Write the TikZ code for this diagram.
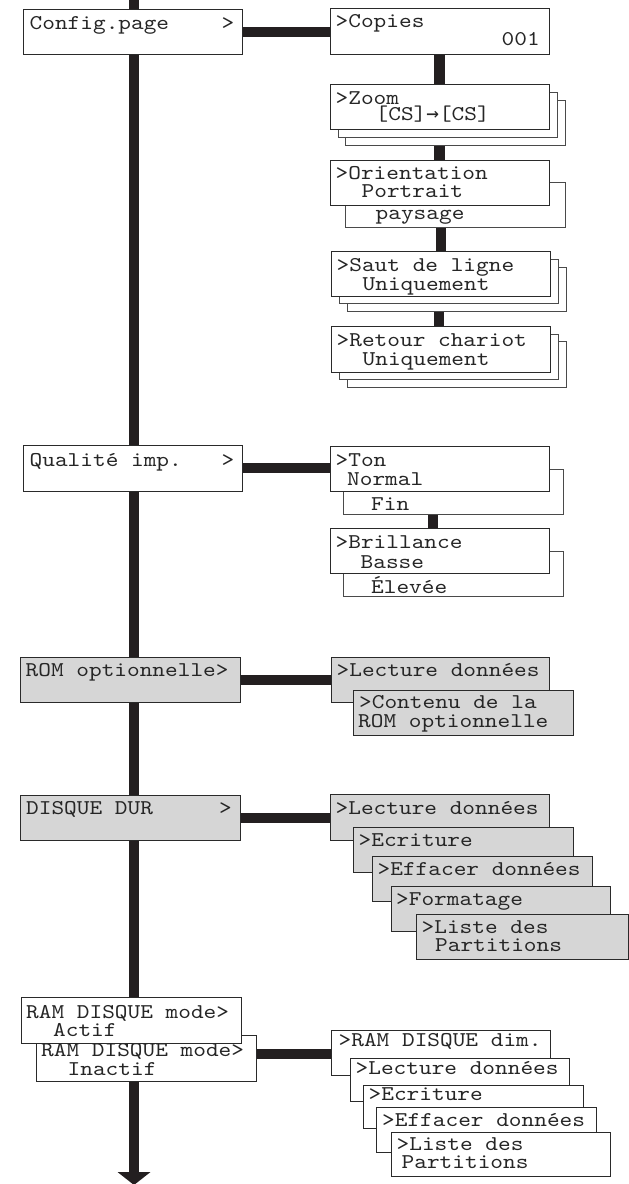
\documentclass[tikz,border=0pt]{standalone}
\usepackage{fontspec}
\setmonofont[FakeStretch=1.15]{lmmono10-regular.otf}
\newfontfamily\arrowfont{DejaVu Sans Mono}
\usetikzlibrary{backgrounds,calc}
\definecolor{ink}{HTML}{231F20}
\definecolor{frame}{HTML}{2A2A2A}
\definecolor{shade}{HTML}{D6D6D6}
\newcommand{\mybox}[6][]{\path (#3,#4) node[box,#1,minimum width={(#5-#3)*1pt},minimum height={(#6-#4)*1pt}] (#2) {};}
\newcommand{\mytext}[4][]{\node[txt,#1] (#2) at (#3) {#4};}
\begin{document}
\begin{tikzpicture}[x=1pt,y=-1pt,
  box/.style={draw=frame,line width=0.9pt,fill=white,inner sep=0pt,outer sep=0pt,anchor=north west},
  grey/.style={fill=shade},
  back/.style={draw=frame!85},
  txt/.style={inner sep=0pt,anchor=base west,font=\ttfamily\fontsize{21}{21}\selectfont,text=black!85},
  hbar/.style={draw=ink,line width=10pt},
  vbar/.style={draw=ink,line width=10.5pt}]
\useasboundingbox (0,0) rectangle (629,1184);

% ---------- left column ----------
\mybox{config}{23}{9}{242}{54}
\mytext{tconfig}{29.5,29}{Config.page}
\mytext{tconfigb}{221.5,29}{>}

\mybox{qualite}{23}{445}{242}{491}
\mytext{tqual}{29.5,466.7}{Qualité imp.}
\mytext{tqualb}{221.5,466.7}{>}

\mybox[grey]{rom}{20}{657}{240}{702}
\mytext{trom}{25.5,676}{ROM optionnelle>}

\mybox[grey]{disque}{20}{795}{240}{840}
\mytext{tdisque}{26,814}{DISQUE DUR}
\mytext{tdisqueb}{219,814}{>}

\mybox{raminactif}{36}{1035}{256}{1081}
\mytext{tinact}{41,1056.7}{RAM DISQUE mode>}
\mytext{tinactb}{67.5,1075}{Inactif}
\mybox{ramactif}{21}{997}{241}{1043}
\mytext{tact}{26,1018.3}{RAM DISQUE mode>}
\mytext{tactb}{53,1036}{Actif}

% ---------- Config.page column ----------
\mybox{copies}{330}{8}{549}{54}
\mytext{tcop}{335.5,27.5}{>Copies}
\mytext{tcopb}{501.5,45.7}{001}

\mybox[back]{zoomb}{345}{100}{565}{145}
\mybox[back]{zooma}{338}{92}{557}{137}
\mybox{zoom}{330}{84}{549}{129}
\mytext{tzoom}{335.5,104}{>Zoom}
\mytext{tzoomb}{375.5,120.7}{[CS]{\arrowfont →}[CS]}

\mybox[back]{orientb}{345}{182}{565}{227}
\mybox{orient}{330}{160}{549}{205}
\mytext{tor}{335.5,179}{>Orientation}
\mytext{torb}{361.5,197.7}{Portrait}
\mytext{torc}{375.5,219.3}{paysage}

\mybox[back]{sautb}{347.7}{267.7}{566.7}{311.3}
\mybox[back]{sauta}{339.7}{259.7}{558.7}{303.3}
\mybox{saut}{331.7}{251.7}{550.7}{296}
\mytext{tsaut}{336.5,271.7}{>Saut de ligne}
\mytext{tsautb}{362.5,290.7}{Uniquement}

\mybox[back]{retourb}{347}{341.7}{566.7}{387.3}
\mybox[back]{retoura}{339.3}{334.3}{558.7}{379.3}
\mybox{retour}{331.7}{326.7}{550.7}{372}
\mytext{tret}{336.5,346.7}{>Retour chariot}
\mytext{tretb}{362.5,365}{Uniquement}

% ---------- Qualite column ----------
\mybox[back]{tonb}{343.7}{469}{563.3}{514}
\mybox{ton}{330}{446}{549}{491.3}
\mytext{tton}{335.5,466.7}{>Ton}
\mytext{ttonb}{347,485}{Normal}
\mytext{ttonc}{371,510.7}{Fin}

\mybox[back]{brillb}{343.7}{551}{563.3}{596.3}
\mybox{brill}{330}{528.3}{549}{573.7}
\mytext{tbr}{335.5,548.7}{>Brillance}
\mytext{tbrb}{360.5,568.3}{Basse}
\mytext{tbrc}{371,593.3}{Élevée}

% ---------- ROM column ----------
\mybox[grey]{romlect}{331}{657}{549}{702}
\mytext{tromlect}{336.5,676}{>Lecture données}
\mybox[grey]{contenu}{353.6}{690}{573.4}{735}
\mytext{tcont}{359,708.3}{>Contenu de la}
\mytext{tcontb}{358,727.3}{ROM optionnelle}

% ---------- DISQUE column ----------
\mybox[grey]{dlect}{330.7}{794.7}{549.3}{840}
\mytext{tdlect}{335.5,814}{>Lecture données}
\mybox[grey]{decr}{353.3}{827.3}{573.3}{872.7}
\mytext{tdecr}{358.5,846}{>Ecriture}
\mybox[grey]{deff}{372.7}{856}{592.7}{901}
\mytext{tdeff}{377.5,875}{>Effacer données}
\mybox[grey]{dfmt}{391}{886}{610.7}{931.7}
\mytext{tdfmt}{396,905}{>Formatage}
\mybox[grey]{dlst}{416}{914}{628}{959.3}
\mytext{tdlst}{421.5,933.3}{>Liste des}
\mytext{tdlstb}{435,951.7}{Partitions}

% ---------- RAM column ----------
\mybox{rdim}{331.7}{1030}{550}{1075}
\mytext{trdim}{338.5,1046.7}{>RAM DISQUE dim.}
\mybox{rlect}{350}{1058.3}{569.3}{1101.7}
\mytext{trlect}{355.5,1074.3}{>Lecture données}
\mybox{recr}{363.3}{1085}{583.3}{1128.3}
\mytext{trecr}{368.5,1100}{>Ecriture}
\mybox{reff}{376.7}{1107.3}{596}{1152.7}
\mytext{treff}{382,1126}{>Effacer données}
\mybox{rlst}{391}{1132.3}{610}{1176.7}
\mytext{trlst}{396.5,1150}{>Liste des}
\mytext{trlstb}{401.5,1168.3}{Partitions}

% ---------- connectors ----------
\begin{scope}[on background layer]
  \coordinate (maintop) at (134,0);
  \coordinate (mainend) at (134,1172);
  \coordinate (maintip) at (134,1185);
  \draw[draw=ink,line width=10.3pt] (maintop) -- (mainend);
  \fill[ink] ([xshift=-16.5pt]mainend) -- ([xshift=16.5pt]mainend) -- (maintip) -- cycle;

  \draw[hbar] (config.east) -- (config.east -| copies.west);
  \draw[vbar] (copies.south) -- (copies.south |- zoom.north);
  \draw[vbar] (zoomb.south -| orient.north) -- (orient.north);
  \draw[vbar] (orientb.south -| saut.north) -- (saut.north);
  \draw[vbar] ([xshift=-2pt]sautb.south -| retour.north) -- ([xshift=-2pt]retour.north);

  \draw[hbar] (qualite.east) -- (qualite.east -| ton.west);
  \draw[vbar] ([xshift=-6.5pt]tonb.south -| ton.south) -- ([xshift=-6.5pt]brill.north);

  \draw[hbar] (rom.east) -- (rom.east -| romlect.west);
  \draw[hbar] (disque.east) -- (disque.east -| dlect.west);
  \draw[hbar] ([yshift=4pt]raminactif.east) -- ([yshift=4pt]raminactif.east -| rdim.west);
\end{scope}
\end{tikzpicture}
\end{document}
